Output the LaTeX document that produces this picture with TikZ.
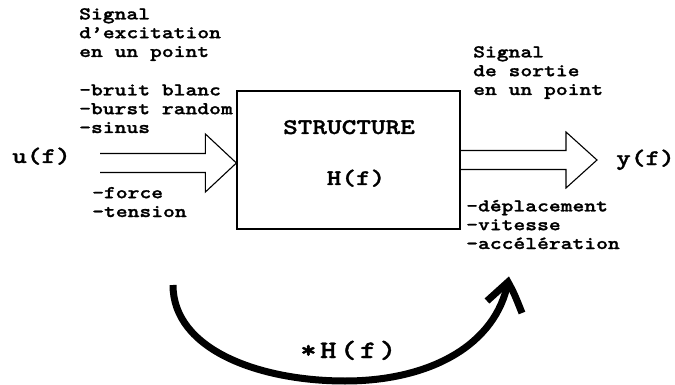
\documentclass[tikz,border=0pt]{standalone}
\usepackage{fontspec}
\newfontfamily\cour{lmmonolt10-bold.otf}[FakeStretch=1.25, FakeBold=1.3]
\usetikzlibrary{calc}

\begin{document}
\begin{tikzpicture}[x=1pt, y=-1pt, every node/.style={inner sep=0pt},
  txt/.style={font=\cour\fontsize{18}{18.8}\selectfont, align=left, anchor=base west},
  big/.style={font=\cour\fontsize{22.3}{22.3}\selectfont},
  block/.style={draw, line width=1.2pt, minimum width=223pt, minimum height=138pt},
  hollow/.style={draw, line width=1.1pt, line join=miter},
  loop/.style={line width=7pt}]
\useasboundingbox (0,0) rectangle (675,385);
% the structure block
\node[block] (struct) at (348.5,160) {};
\node[big, anchor=base] (title) at (349,134) {STRUCTURE};
\node[big, anchor=base] (hf) at (356,185) {H(f)};
% input side
\node[txt] (insig) at (79,57) {Signal\\d’excitation\\en un point};
\node[txt] (intypes) at (79,133) {-bruit blanc\\-burst random\\-sinus};
\node[big, anchor=base west] (uf) at (12,163) {u(f)};
\node[txt] (inunits) at (92,217) {-force\\-tension};
\coordinate (in0) at (100,163);
\coordinate (intip) at (struct.west |- in0);
\draw[hollow] ($(in0)+(0,-9.5)$) -- ($(intip)+(-31,-9.5)$) -- ($(intip)+(-31,-29)$)
  -- (intip) -- ($(intip)+(-31,29)$) -- ($(intip)+(-31,9.5)$) -- ($(in0)+(0,9.5)$);
% output side
\node[txt] (outsig) at (473,95) {Signal\\de sortie\\en un point};
\node[txt] (outunits) at (466,249) {-déplacement\\-vitesse\\-accélération};
\node[big, anchor=base west] (yf) at (616,165) {y(f)};
\coordinate (outtip) at (597,160);
\draw[hollow] ($(struct.east)+(0,-9.5)$) -- ($(outtip)+(-31,-9.5)$) -- ($(outtip)+(-31,-28)$)
  -- (outtip) -- ($(outtip)+(-31,28)$) -- ($(outtip)+(-31,9.5)$) -- ($(struct.east)+(0,9.5)$);
% loop underneath
\coordinate (fb0) at (173,285);
\coordinate (fb1) at (508,282);
\draw[loop] (fb0) .. controls (173,350) and (260,381) .. (345,381)
  .. controls (430,381) and (496,345) .. (fb1);
\draw[loop, line join=miter] (487,301) -- (fb1) .. controls (514,293) .. (522,313);
\node[font=\cour\fontsize{25}{25}\selectfont\addfontfeature{LetterSpace=14}, anchor=base west] (fbl) at (300,358) {*H(f)};
\end{tikzpicture}
\end{document}
